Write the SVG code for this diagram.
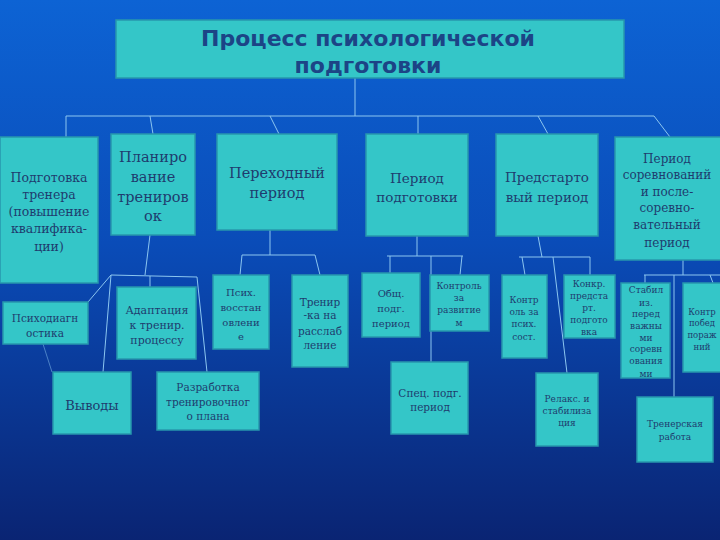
<svg xmlns="http://www.w3.org/2000/svg" width="720" height="540" viewBox="0 0 720 540">
<defs>
<linearGradient id="bg" x1="0" y1="0" x2="0" y2="1">
<stop offset="0" stop-color="#0d63d4"/>
<stop offset="0.45" stop-color="#0a4cb8"/>
<stop offset="1" stop-color="#0a2473"/>
</linearGradient>
<style>
.box{fill:#34c6c8;stroke:#2797ad;stroke-width:1.5}
.t{font-family:"DejaVu Serif","Liberation Serif",serif;fill:#1f3c6e;text-anchor:middle}
.title{font-family:"DejaVu Sans","Liberation Sans",sans-serif;font-weight:bold;font-size:22px;fill:#1c4486;text-anchor:middle}
.c{fill:none;stroke:#8cc6f0;stroke-width:1}
</style>
</defs>
<rect width="720" height="540" fill="url(#bg)"/>

<g id="connectors">
<path class="c" d="M355,78 V116 M66,116 H654 M66,116 V137 M150,116 L153,134 M270,116 L279,134 M418,116 V134 M538,116 L548,134 M654,116 L670,137"/>
<path class="c" d="M150,235 L145,275 M111,275 L197,277 M111,275 L88,302 M150,276 V287 M111,275 L103,372 M197,277 L207,372"/>
<path class="c" d="M43,344 L52,372" stroke-opacity="0.5"/>
<path class="c" d="M270,230 V255 M242,255 H315 M242,255 L240,275 M315,255 L320,275"/>
<path class="c" d="M417,236 V256 M387,256 H463 M390,256 V273 M462,256 L460,275 M431,256 V362"/>
<path class="c" d="M538,236 L542,257 M519,257 H590 M522,257 L525,275 M553,257 L567,373 M590,257 V275"/>
<path class="c" d="M683,260 V275 M644,275 H720 M645,275 V283 M710,275 L713,283 M674,275 V397"/>
</g>

<g id="title">
<rect class="box" x="116" y="20" width="508" height="58"/>
<text class="title" x="368" y="46">Процесс психологической</text>
<text class="title" x="368" y="73">подготовки</text>
</g>

<g id="n1">
<rect class="box" x="0" y="137" width="98" height="146"/>
<text class="t" font-size="12.5" x="49"><tspan x="49" y="182">Подготовка</tspan><tspan x="49" y="199">тренера</tspan><tspan x="49" y="216">(повышение</tspan><tspan x="49" y="233">квалифика-</tspan><tspan x="49" y="251">ции)</tspan></text>
</g>
<g id="n2">
<rect class="box" x="111" y="134" width="84" height="101"/>
<text class="t" font-size="14.5"><tspan x="153" y="162">Планиро</tspan><tspan x="153" y="182">вание</tspan><tspan x="153" y="202">трениров</tspan><tspan x="153" y="221">ок</tspan></text>
</g>
<g id="n3">
<rect class="box" x="217" y="134" width="120" height="96"/>
<text class="t" font-size="14.5"><tspan x="277" y="178">Переходный</tspan><tspan x="277" y="198">период</tspan></text>
</g>
<g id="n4">
<rect class="box" x="366" y="134" width="102" height="102"/>
<text class="t" font-size="13.5"><tspan x="417" y="183">Период</tspan><tspan x="417" y="202">подготовки</tspan></text>
</g>
<g id="n5">
<rect class="box" x="496" y="134" width="102" height="102"/>
<text class="t" font-size="13.5"><tspan x="547" y="182">Предстарто</tspan><tspan x="547" y="202">вый период</tspan></text>
</g>
<g id="n6">
<rect class="box" x="615" y="137" width="110" height="123"/>
<text class="t" font-size="12"><tspan x="667" y="163">Период</tspan><tspan x="667" y="179">соревнований</tspan><tspan x="667" y="196">и после-</tspan><tspan x="667" y="212">соревно-</tspan><tspan x="667" y="229">вательный</tspan><tspan x="667" y="247">период</tspan></text>
</g>

<g id="n7">
<rect class="box" x="3" y="302" width="85" height="42"/>
<text class="t" font-size="10.5"><tspan x="45" y="322">Психодиагн</tspan><tspan x="45" y="337">остика</tspan></text>
</g>
<g id="n8">
<rect class="box" x="117" y="287" width="79" height="72"/>
<text class="t" font-size="11"><tspan x="157" y="314">Адаптация</tspan><tspan x="157" y="329">к тренир.</tspan><tspan x="157" y="344">процессу</tspan></text>
</g>
<g id="n9">
<rect class="box" x="53" y="372" width="78" height="62"/>
<text class="t" font-size="13" x="92" y="410">Выводы</text>
</g>
<g id="n10">
<rect class="box" x="157" y="372" width="102" height="58"/>
<text class="t" font-size="10.5"><tspan x="208" y="391">Разработка</tspan><tspan x="208" y="406">тренировочног</tspan><tspan x="208" y="420">о плана</tspan></text>
</g>
<g id="n11">
<rect class="box" x="213" y="275" width="56" height="74"/>
<text class="t" font-size="10"><tspan x="241" y="296">Псих.</tspan><tspan x="241" y="311">восстан</tspan><tspan x="241" y="326">овлени</tspan><tspan x="241" y="340">е</tspan></text>
</g>
<g id="n12">
<rect class="box" x="292" y="275" width="56" height="92"/>
<text class="t" font-size="10.5"><tspan x="320" y="306">Тренир</tspan><tspan x="320" y="319">-ка на</tspan><tspan x="320" y="335">расслаб</tspan><tspan x="320" y="349">ление</tspan></text>
</g>
<g id="n13">
<rect class="box" x="362" y="273" width="58" height="64"/>
<text class="t" font-size="10"><tspan x="391" y="297">Общ.</tspan><tspan x="391" y="312">подг.</tspan><tspan x="391" y="327">период</tspan></text>
</g>
<g id="n14">
<rect class="box" x="430" y="275" width="59" height="56"/>
<text class="t" font-size="9"><tspan x="459" y="289">Контроль</tspan><tspan x="459" y="301">за</tspan><tspan x="459" y="313">развитие</tspan><tspan x="459" y="326">м</tspan></text>
</g>
<g id="n15">
<rect class="box" x="391" y="362" width="77" height="72"/>
<text class="t" font-size="10.5"><tspan x="430" y="397">Спец. подг.</tspan><tspan x="430" y="411">период</tspan></text>
</g>
<g id="n16">
<rect class="box" x="502" y="275" width="45" height="83"/>
<text class="t" font-size="9"><tspan x="524" y="303">Контр</tspan><tspan x="524" y="315">оль за</tspan><tspan x="524" y="327">псих.</tspan><tspan x="524" y="340">сост.</tspan></text>
</g>
<g id="n17">
<rect class="box" x="564" y="275" width="51" height="63"/>
<text class="t" font-size="9"><tspan x="589" y="287">Конкр.</tspan><tspan x="589" y="299">предста</tspan><tspan x="589" y="311">рт.</tspan><tspan x="589" y="323">подгото</tspan><tspan x="589" y="335">вка</tspan></text>
</g>
<g id="n18">
<rect class="box" x="621" y="283" width="49" height="95"/>
<text class="t" font-size="9"><tspan x="646" y="293">Стабил</tspan><tspan x="646" y="306">из.</tspan><tspan x="646" y="317">перед</tspan><tspan x="646" y="329">важны</tspan><tspan x="646" y="341">ми</tspan><tspan x="646" y="352">соревн</tspan><tspan x="646" y="364">ования</tspan><tspan x="646" y="377">ми</tspan></text>
</g>
<g id="n19">
<rect class="box" x="683" y="283" width="40" height="89"/>
<text class="t" font-size="8.5"><tspan x="702" y="315">Контр</tspan><tspan x="702" y="326">побед</tspan><tspan x="702" y="338">пораж</tspan><tspan x="702" y="350">ний</tspan></text>
</g>
<g id="n20">
<rect class="box" x="536" y="373" width="62" height="73"/>
<text class="t" font-size="9"><tspan x="567" y="402">Релакс. и</tspan><tspan x="567" y="414">стабилиза</tspan><tspan x="567" y="426">ция</tspan></text>
</g>
<g id="n21">
<rect class="box" x="637" y="397" width="76" height="65"/>
<text class="t" font-size="9"><tspan x="675" y="427">Тренерская</tspan><tspan x="675" y="440">работа</tspan></text>
</g>
</svg>
